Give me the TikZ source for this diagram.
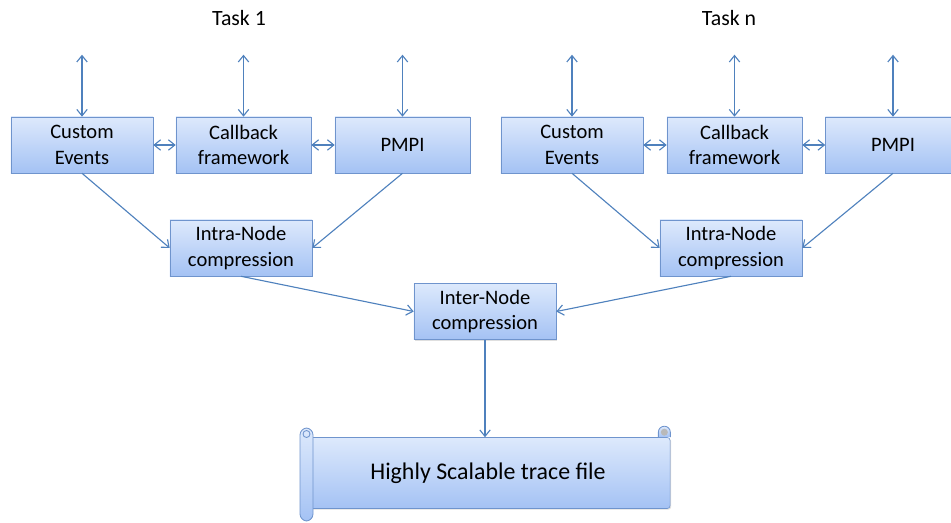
\documentclass[tikz,border=0pt]{standalone}
\usepackage{fontspec}
\setmainfont{Carlito}
\usetikzlibrary{arrows.meta, positioning, shadows, calc}
\definecolor{boxtop}{HTML}{DDE9FC}
\definecolor{boxbot}{HTML}{A4C2F4}
\definecolor{boxline}{HTML}{6F94CD}
\definecolor{linkblue}{HTML}{4F81BD}

\begin{document}
\begin{tikzpicture}[
    x=0.025cm, y=-0.025cm,
    block/.style={rectangle, draw=boxline, top color=boxtop, bottom color=boxbot,
        minimum width=#1, minimum height=1.4cm, align=center, inner sep=1pt,
        font=\fontsize{14.6}{18.2}\selectfont,
        drop shadow={opacity=0.25, shadow xshift=0.8pt, shadow yshift=-0.8pt}},
    block/.default=3.55cm,
    tasklabel/.style={font=\fontsize{15.5}{18}\selectfont},
    link/.style={draw=linkblue, line width=0.8pt, -{Straight Barb[length=1.6mm, width=2.6mm]}},
    dbl/.style={link, {Straight Barb[length=1.6mm, width=2.6mm]}-{Straight Barb[length=1.6mm, width=2.6mm]}},
    scrollbody/.style={rectangle, draw=boxline, top color=boxtop, bottom color=boxbot,
        minimum width=9.1cm, minimum height=1.775cm, rounded corners=2pt,
        font=\fontsize{17}{20}\selectfont,
        drop shadow={opacity=0.25, shadow xshift=0.8pt, shadow yshift=-0.8pt}},
    roll/.style={draw=boxline, top color=boxtop, bottom color=boxbot, line width=0.6pt},
]
\useasboundingbox (0,0) rectangle (951,523);

% task labels
\node[tasklabel] (task1) at (239,18) {Task 1};
\node[tasklabel] (taskn) at (729,18) {Task n};

% task 1
\node[block] (ce1) at (82,145) {Custom\\Events};
\node[block=3.375cm] (cb1) at (243.5,145) {Callback\\framework};
\node[block=3.375cm] (pm1) at (402.5,145) {PMPI};
\node[block] (intra1) at (241,248) {Intra-Node\\compression};

% task n
\node[block] (ce2) at (572,145) {Custom\\Events};
\node[block=3.375cm] (cb2) at (734.5,145) {Callback\\framework};
\node[block=3.375cm] (pm2) at (893,145) {PMPI};
\node[block] (intra2) at (731,248) {Intra-Node\\compression};

\node[block] (inter) at (485,311.5) {Inter-Node\\compression};

% trace file scroll
\node[scrollbody] (trace) at (488,473) {Highly Scalable trace file};
\draw[roll, rounded corners=5] (300,428) rectangle (313,521);
\draw[boxline, line width=0.6pt] (306.5,434) circle (3.5);
\draw[roll] ($(trace.north east)+(-12,0)$) -- ++(0,-5) arc (180:360:6) -- (trace.north east);
\fill[gray!55] ($(trace.north east)+(-6,-5)$) circle (3.5);

% external links
\foreach \n in {ce1,cb1,pm1,ce2,cb2,pm2}
    \draw[dbl] (\n.north) -- ++(0,-62);

\draw[dbl] (ce1) -- (cb1);
\draw[dbl] (cb1) -- (pm1);
\draw[dbl] (ce2) -- (cb2);
\draw[dbl] (cb2) -- (pm2);

\draw[link] (ce1.south) -- (intra1.west);
\draw[link] (pm1.south) -- (intra1.east);
\draw[link] (ce2.south) -- (intra2.west);
\draw[link] (pm2.south) -- (intra2.east);

\draw[link] (intra1.south) -- (inter.west);
\draw[link] (intra2.south) -- (inter.east);
\draw[link] (inter.south) -- (inter.south |- trace.north);
\end{tikzpicture}
\end{document}
